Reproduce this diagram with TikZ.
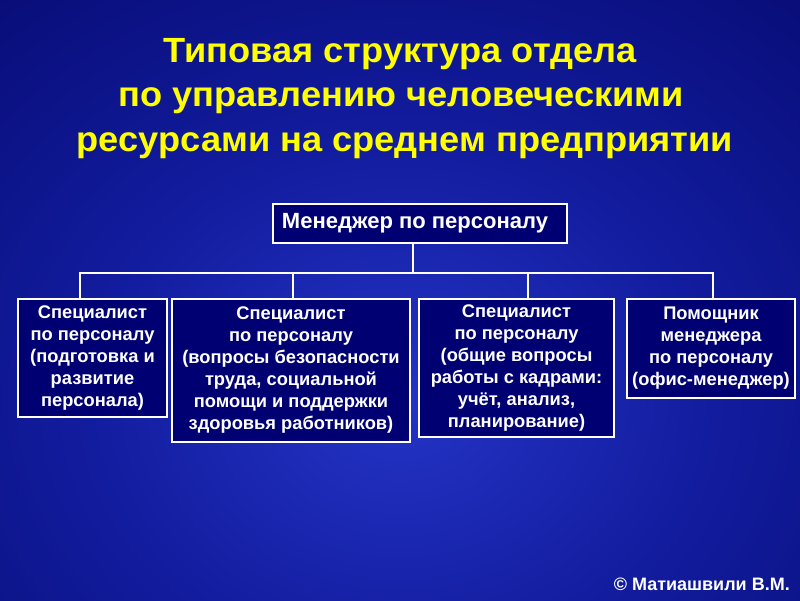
\documentclass[tikz,border=0pt]{standalone}
\usepackage{fontspec}
\setmainfont{Liberation Sans}
\newfontfamily\titlefont[FakeStretch=1.035]{Liberation Sans}
\definecolor{bgA}{RGB}{36,52,198}
\definecolor{bgB}{RGB}{18,28,158}
\definecolor{bgC}{RGB}{4,7,104}
\definecolor{bgD}{RGB}{0,0,64}
\definecolor{boxfill}{RGB}{0,0,115}
\definecolor{titleyellow}{RGB}{255,255,0}
\pgfdeclareradialshading{bgshade}{\pgfpoint{0bp}{0bp}}{color(0bp)=(bgA); color(13bp)=(bgB); color(32bp)=(bgC); color(50bp)=(bgD)}
\tikzset{
  orgbox/.style={draw=white, line width=2.5pt, fill=boxfill, text=white,
    font=\bfseries\fontsize{18.3}{22}\selectfont, align=center, inner sep=0pt},
  link/.style={draw=white, line width=2.5pt},
  titletext/.style={text=titleyellow, font=\titlefont\bfseries\fontsize{35}{44}\selectfont, align=center}
}
\begin{document}
\begin{tikzpicture}[x=1pt,y=-1pt]
\useasboundingbox (0,0) rectangle (800,600);
\begin{scope}
\clip (0,0) rectangle (800,600);
\path[shading=bgshade] (-200,-100) rectangle (1000,900);
\end{scope}
% title
\node[titletext, anchor=base] (t1) at (400,62) {Типовая структура отдела};
\node[titletext, anchor=base] (t2) at (401,106) {по управлению человеческими};
\node[titletext, anchor=base] (t3) at (405,151) {ресурсами на среднем предприятии};
% manager
\node[orgbox, minimum width=294pt, minimum height=39pt, font=\bfseries\fontsize{22}{24}\selectfont] (m) at (420,223.5) {\hspace*{-10pt}Менеджер по персоналу};
% boxes
\node[orgbox, minimum width=149pt, minimum height=118pt] (b1) at (92.5,358) {Специалист\\по персоналу\\(подготовка и\\развитие\\персонала)};
\node[orgbox, minimum width=238pt, minimum height=143pt] (b2) at (291,370.5) {Специалист\\по персоналу\\(вопросы безопасности\\труда, социальной\\помощи и поддержки\\здоровья работников)};
\node[orgbox, minimum width=195pt, minimum height=138pt] (b3) at (516.5,368) {Специалист\\по персоналу\\(общие вопросы\\работы с кадрами:\\учёт, анализ,\\планирование)};
\node[orgbox, minimum width=168pt, minimum height=99pt] (b4) at (711,348.5) {Помощник\\менеджера\\по персоналу\\(офис-менеджер)};
% connectors
\coordinate (jm) at (413,273);
\coordinate (j1) at (80,273);
\coordinate (j2) at (293,273);
\coordinate (j3) at (528,273);
\coordinate (j4) at (713,273);
\draw[link] (jm |- m.south) -- (jm);
\draw[link, line cap=rect] (j1) -- (j4);
\draw[link] (j1) -- (j1 |- b1.north);
\draw[link] (j2) -- (j2 |- b2.north);
\draw[link] (j3) -- (j3 |- b3.north);
\draw[link] (j4) -- (j4 |- b4.north);
% copyright
\node[anchor=base east, text=white, font=\bfseries\fontsize{18}{20}\selectfont, inner sep=0pt] (c) at (790,590) {© Матиашвили В.М.};
\end{tikzpicture}
\end{document}
